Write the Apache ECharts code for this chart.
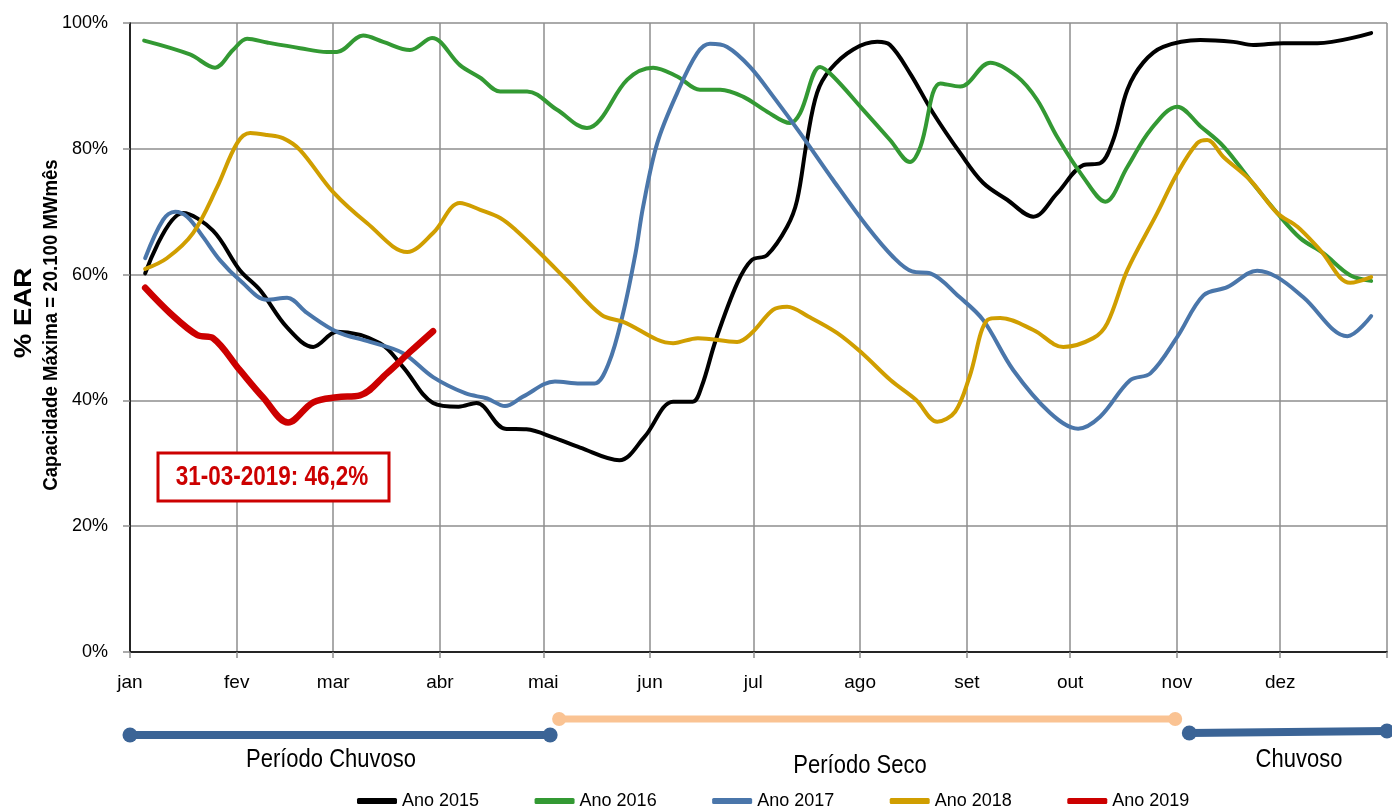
<!DOCTYPE html>
<html>
<head>
<meta charset="utf-8">
<script src="https://cdn.jsdelivr.net/npm/echarts@6/dist/echarts.min.js"></script>
<style>
html,body{margin:0;padding:0;background:#fff;}
#chart{width:1392px;height:811px;}
</style>
</head>
<body>
<div id="chart"></div>
<script>
// ---- Data (x = day of year, y = % EAR) ----
const monthLabels = ['jan','fev','mar','abr','mai','jun','jul','ago','set','out','nov','dez'];
const monthStarts = [0,31,59,90,120,151,181,212,243,273,304,334,365];
const yTicks = [0,20,40,60,80,100];
const seriesNames = ['Ano 2015','Ano 2016','Ano 2017','Ano 2018','Ano 2019'];

const ano2015 = [[4.4,60.2],[15.4,69.8],[24.1,67.0],[31.9,60.7],[37.8,57.5],[45.6,51.6],[53.2,48.5],[60.1,50.9],[72.6,49.1],[79.3,45.3],[88.0,39.6],[95.4,39.0],[100.6,39.6],[108.9,35.5],[115.1,35.4],[123.4,34.0],[130.7,32.5],[142.1,30.5],[149.4,34.2],[157.7,39.8],[163.4,39.8],[166.0,42.2],[170.1,49.6],[176.3,58.6],[180.5,62.3],[185.0,63.1],[190.8,67.6],[193.7,71.8],[196.6,81.4],[199.5,88.9],[203.3,92.6],[210.0,95.8],[217.0,97.0],[220.7,96.5],[226.5,92.0],[233.2,85.7],[241.1,79.3],[247.7,74.6],[254.7,71.9],[262.3,69.2],[269.2,72.9],[276.8,77.4],[281.7,77.7],[285.5,81.4],[289.6,89.4],[294.2,93.7],[300.0,96.2],[310.8,97.3],[320.4,97.0],[326.2,96.5],[334.9,96.8],[344.8,96.8],[360.4,98.4]];

const ano2016 = [[4.1,97.2],[17.4,95.0],[24.7,92.9],[29.9,95.7],[34.0,97.5],[39.8,96.9],[49.4,96.0],[57.2,95.4],[60.1,95.4],[67.7,98.0],[73.5,97.0],[81.3,95.7],[87.7,97.6],[95.8,93.3],[101.7,91.3],[107.5,89.1],[115.3,89.1],[124.0,86.2],[132.7,83.3],[136.5,84.6],[144.4,91.0],[151.9,92.9],[158.9,91.5],[165.5,89.4],[171.4,89.4],[178.0,88.3],[185.0,85.9],[191.7,84.1],[194.6,85.7],[200.4,93.0],[204.2,91.5],[212.9,86.2],[220.7,81.4],[226.5,77.9],[229.5,80.3],[235.3,90.4],[241.1,89.9],[249.8,93.7],[257.6,91.5],[263.4,87.8],[269.2,81.9],[276.8,75.5],[283.2,71.6],[289.6,77.1],[296.3,83.0],[304.1,86.7],[310.8,83.6],[317.5,80.4],[325.3,75.0],[333.1,69.8],[339.8,65.8],[346.5,63.4],[354.3,59.9],[360.4,59.0]];

const ano2017 = [[4.4,62.6],[9.6,68.7],[13.1,70.0],[16.6,69.2],[21.2,66.0],[26.1,62.3],[31.9,59.1],[39.8,56.0],[45.6,56.3],[51.4,53.9],[60.1,50.9],[69.7,49.3],[79.3,47.5],[88.0,43.7],[97.5,41.1],[103.7,40.3],[108.9,39.1],[114.1,40.6],[123.4,43.0],[130.7,42.7],[134.9,42.7],[139.0,45.9],[143.2,53.9],[146.8,63.4],[149.0,70.8],[153.1,80.9],[158.9,88.9],[164.7,95.2],[168.4,96.7],[173.4,96.2],[180.1,93.0],[186.8,88.3],[194.6,82.5],[204.2,75.0],[214.1,67.6],[221.6,62.8],[227.1,60.5],[232.4,60.2],[240.7,56.5],[247.7,52.8],[256.5,44.8],[267.2,38.0],[275.3,35.5],[281.7,37.4],[290.4,43.2],[296.3,44.3],[304.1,50.1],[311.7,56.7],[318.6,58.0],[327.3,60.6],[333.1,59.6],[340.7,56.4],[353.5,50.2],[360.4,53.4]];

const ano2018 = [[4.4,60.9],[10.7,62.6],[18.3,66.6],[25.3,73.9],[31.1,80.9],[34.9,82.5],[39.8,82.2],[44.4,81.7],[49.4,79.8],[59.0,73.1],[68.8,68.2],[80.5,63.6],[88.0,66.6],[95.8,71.4],[101.7,70.3],[107.5,69.0],[112.0,67.1],[119.1,63.4],[126.9,59.1],[136.9,53.6],[143.2,52.5],[157.7,49.1],[164.9,49.9],[176.3,49.3],[180.5,50.7],[186.7,54.4],[190.8,54.9],[197.1,53.3],[205.4,50.7],[212.6,47.5],[220.9,43.2],[228.2,40.1],[234.4,36.6],[239.6,38.2],[243.8,43.8],[249.0,52.8],[252.7,53.1],[262.3,51.2],[271.0,48.5],[279.7,49.9],[283.8,52.3],[289.6,60.7],[298.3,69.8],[304.1,76.1],[309.9,80.9],[312.8,81.4],[317.5,78.7],[325.3,75.0],[333.1,69.8],[339.0,67.6],[345.6,63.9],[354.3,58.7],[360.4,59.6]];

const ano2019 = [[4.4,57.9],[11.6,53.9],[19.5,50.4],[24.1,49.9],[31.9,44.8],[38.6,40.5],[45.9,36.5],[53.2,39.7],[60.1,40.5],[66.8,40.8],[74.6,44.3],[81.3,47.7],[88.0,51.0]];

const periodNames = ['Período Chuvoso','Período Seco','Chuvoso'];
const periodStart = [0, 124.6, 307.6];
const periodEnd = [122, 303.5, 365];

const annotationText = '31-03-2019: 46,2%';
const yTitle = '% EAR';
const ySubTitle = 'Capacidade Máxima = 20.100 MWmês';

// ---- Styles ----
const FONT = '"Liberation Sans",Arial,sans-serif';
const colors = ['#000000','#339933','#4a76aa','#d09e00','#cc0000'];
const widths = [4,4,4,4,6.5];
const gridGray = '#8e8e8e';
const periodColors = ['#3b6496','#fac393','#3b6496'];
const periodLevels = [[10,10],[26,26],[12,14]];
const periodWidths = [8,7,8];
const periodSymbols = [15,14,15];

const chart = echarts.init(document.getElementById('chart'), null, {renderer:'canvas'});

const yearData = [ano2015, ano2016, ano2017, ano2018, ano2019];
const series = yearData.map((d,i)=>({
  name: seriesNames[i], type:'line', xAxisIndex:0, yAxisIndex:0,
  data: d, smooth: 0.35, showSymbol:false, symbol:'none',
  lineStyle:{color:colors[i], width:widths[i], cap:'round', join:'round'},
  itemStyle:{color:colors[i]}, z: 3+i, silent:true
}));
periodNames.forEach((n,i)=>{
  series.push({
    name: n, type:'line', xAxisIndex:1, yAxisIndex:2, clip:false,
    data:[[periodStart[i], periodLevels[i][0]],[periodEnd[i], periodLevels[i][1]]],
    symbol:'circle', symbolSize:periodSymbols[i], showSymbol:true,
    lineStyle:{color:periodColors[i], width:periodWidths[i]},
    itemStyle:{color:periodColors[i]}, silent:true
  });
});

const option = {
  animation:false,
  backgroundColor:'#ffffff',
  grid:[
    {left:130, right:5, top:23, bottom:159},
    {left:130, right:5, top:705, height:40}
  ],
  xAxis:[
    {type:'value', gridIndex:0, min:0, max:365, position:'bottom',
     axisLine:{show:true, lineStyle:{color:gridGray, width:1.5}},
     axisTick:{show:true, customValues:monthStarts, length:6, lineStyle:{color:gridGray, width:1.5}},
     axisLabel:{customValues:monthStarts.slice(0,12), margin:21, color:'#000', fontSize:19, fontFamily:FONT,
       formatter:(v)=>monthLabels[monthStarts.indexOf(Math.round(v))] || ''},
     splitLine:{show:true, lineStyle:{color:gridGray, width:1.5}}},
    {type:'value', gridIndex:1, min:0, max:365, show:false},
    {type:'value', gridIndex:0, min:0, max:365, position:'top',
     axisLine:{show:true, lineStyle:{color:'#000', width:1.5}},
     axisTick:{show:false}, axisLabel:{show:false}, splitLine:{show:false}}
  ],
  yAxis:[
    {type:'value', gridIndex:0, min:0, max:100, interval:20,
     axisLine:{show:true, lineStyle:{color:gridGray, width:1.5}},
     axisTick:{show:true, length:7, lineStyle:{color:gridGray, width:1.5}},
     axisLabel:{formatter:'{value}%', margin:22, color:'#000', fontSize:18, fontFamily:FONT},
     splitLine:{show:true, lineStyle:{color:gridGray, width:1.5}}},
    {type:'value', gridIndex:0, min:0, max:100, position:'right',
     axisLine:{show:true, lineStyle:{color:'#000', width:1.5}},
     axisTick:{show:false}, axisLabel:{show:false}, splitLine:{show:false}},
    {type:'value', gridIndex:1, min:0, max:40, show:false}
  ],
  legend:{
    data: seriesNames.map((n,i)=>({name:n, itemStyle:{color:colors[i]}})),
    left:357, top:792, padding:0, icon:'roundRect', itemWidth:40, itemHeight:6, itemGap:55.5, itemTextGap:3,
    textStyle:{fontSize:18, fontFamily:FONT, color:'#000'},
    selectedMode:false
  },
  series: series,
  graphic:[
    {type:'text', x:24, y:313, rotation:Math.PI/2, scaleX:1.15,
     style:{text:yTitle, fontSize:24, fontWeight:'bold', fontFamily:FONT, fill:'#000', align:'center', verticalAlign:'middle'}},
    {type:'text', x:51, y:325, rotation:Math.PI/2, scaleX:0.93,
     style:{text:ySubTitle, fontSize:20, fontWeight:'bold', fontFamily:FONT, fill:'#000', align:'center', verticalAlign:'middle'}},
    {type:'rect', shape:{x:158, y:453, width:231, height:48}, z:100,
     style:{fill:'#ffffff', stroke:'#cc0000', lineWidth:3}},
    {type:'text', x:272, y:477, z:101, scaleY:1.25,
     style:{text:annotationText, fontSize:22.5, fontWeight:'bold', fontFamily:FONT, fill:'#cc0000', align:'center', verticalAlign:'middle'}},
    {type:'text', x:331, y:760, scaleY:1.2,
     style:{text:periodNames[0], fontSize:22, fontFamily:FONT, fill:'#000', align:'center', verticalAlign:'middle'}},
    {type:'text', x:860, y:766, scaleY:1.2,
     style:{text:periodNames[1], fontSize:22, fontFamily:FONT, fill:'#000', align:'center', verticalAlign:'middle'}},
    {type:'text', x:1299, y:760, scaleY:1.2,
     style:{text:periodNames[2], fontSize:22, fontFamily:FONT, fill:'#000', align:'center', verticalAlign:'middle'}}
  ]
};
chart.setOption(option);
</script>
</body>
</html>
